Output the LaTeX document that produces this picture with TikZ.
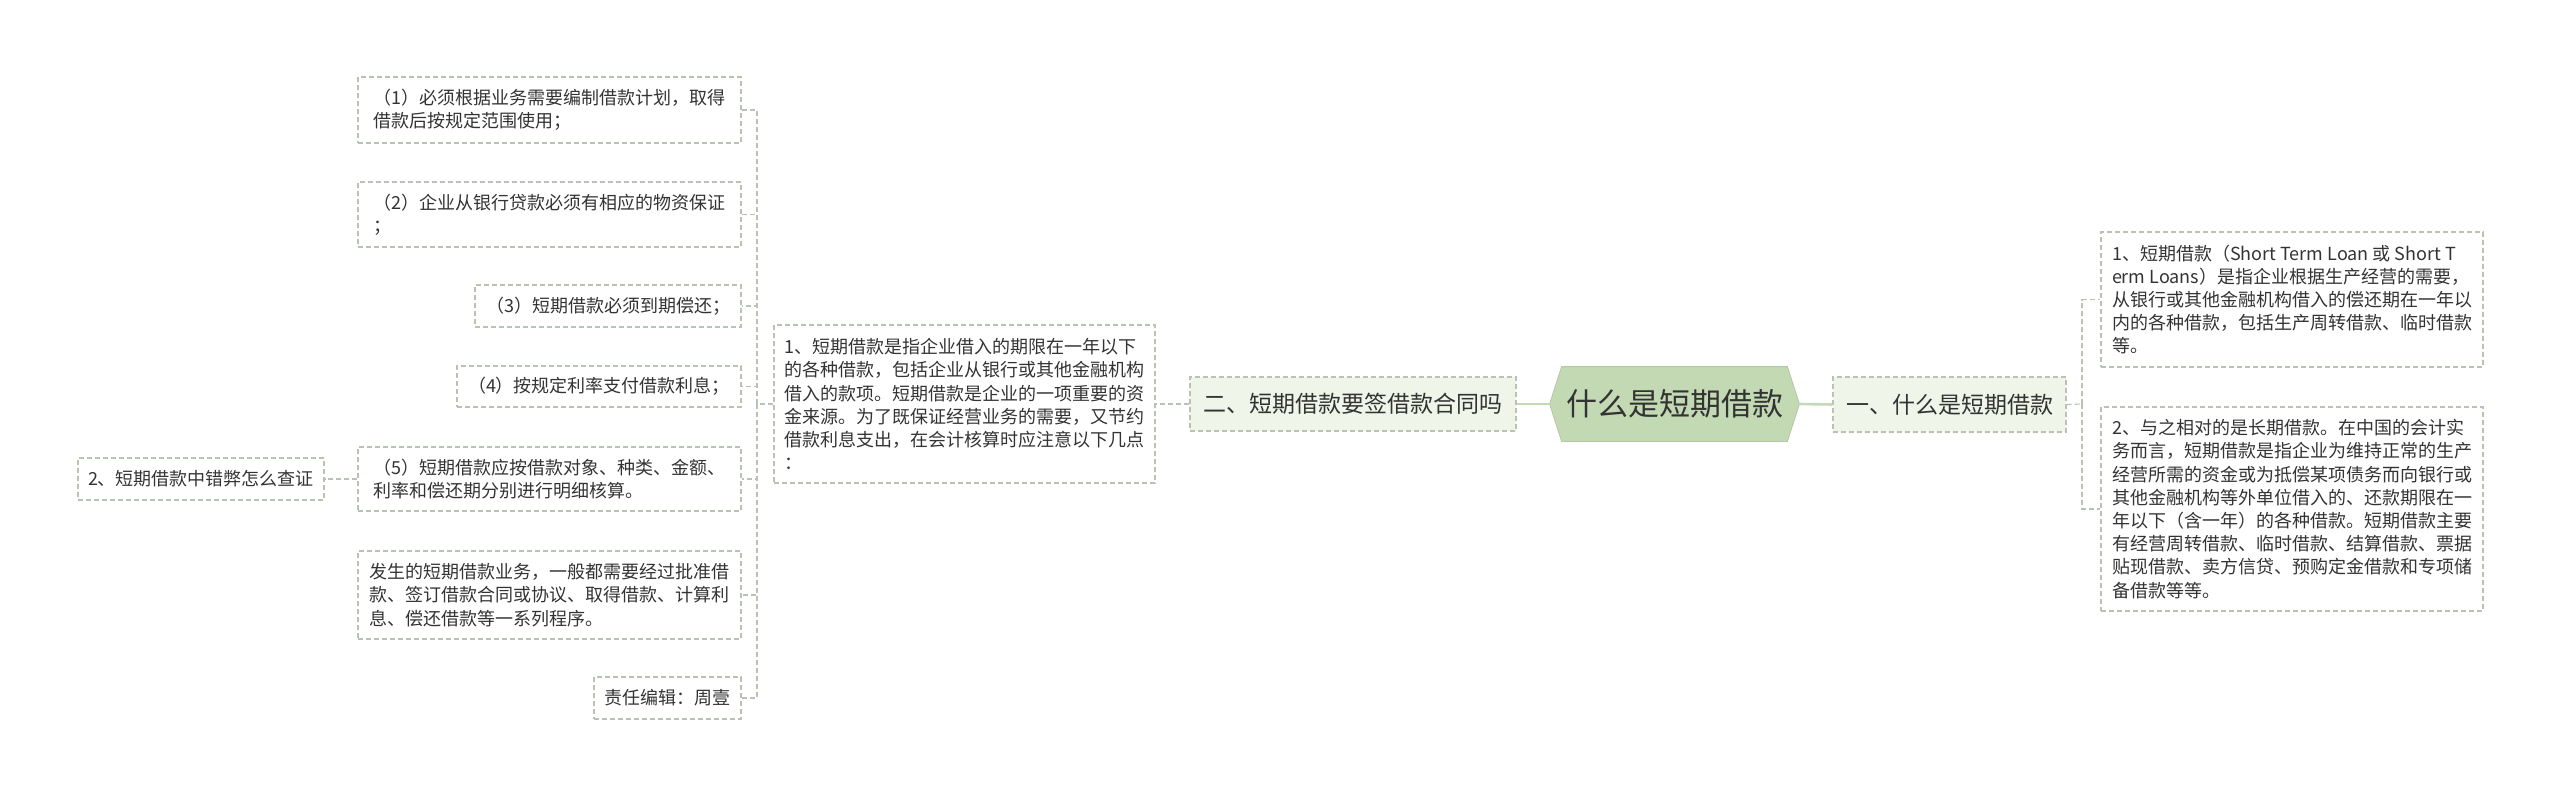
\documentclass[tikz,border=0pt]{standalone}
\usepackage{fontspec}
\setmainfont{Noto Sans CJK SC}
\usepackage{xcolor}
\definecolor{line_grey}{RGB}{186,194,180}
\definecolor{trunk_green}{RGB}{196,218,182}
\definecolor{root_green}{RGB}{194,217,179}
\definecolor{branch_green}{RGB}{239,246,233}
\definecolor{text_grey}{RGB}{51,51,51}
\usepackage{tikz}
\usetikzlibrary{calc,backgrounds}
\newlength\unitpx
\setlength\unitpx{0.5pt}

\begin{document}
\begin{tikzpicture}
[
    x = 0.5pt, y = -0.5pt,
    every node/.style = {text = text_grey, font = \fontsize{9pt}{11.6pt}\selectfont},
    boxsize/.style 2 args = {minimum width = #1\unitpx, minimum height = #2\unitpx},
    box/.style = {draw = line_grey, dash pattern = on 2.5pt off 1.5pt, line width = 0.6pt, align = left, inner xsep = 4.5pt, inner ysep = 4pt},
    branch/.style = {box, fill = branch_green, font = \fontsize{11.5pt}{14pt}\selectfont},
    link/.style = {draw = line_grey, dash pattern = on 2.5pt off 1.5pt, line width = 0.6pt},
    trunk/.style = {draw = trunk_green, line width = 1.3pt}
]
\useasboundingbox (0,0) rectangle (2560,797);

% centre
\node[boxsize={249}{74}, font = \fontsize{15.5pt}{18pt}\selectfont] (root) at (1674.5,404) {什么是短期借款};
\begin{pgfonlayer}{background}
	\filldraw[fill = root_green, draw = root_green!92!black, line width = 0.4pt]
		(root.west) -- ($(root.north west)+(12,0)$) -- ($(root.north east)+(-12,0)$)
		-- (root.east) -- ($(root.south east)+(-12,0)$) -- ($(root.south west)+(12,0)$) -- cycle;
\end{pgfonlayer}

% right side
\node[branch, boxsize={233}{55}] (br1) at (1949.5,404.5) {一、什么是短期借款};
\node[box, boxsize={382}{135}] (r1) at (2292,299.5) {1、短期借款（Short Term Loan 或 Short T\\erm Loans）是指企业根据生产经营的需要，\\从银行或其他金融机构借入的偿还期在一年以\\内的各种借款，包括生产周转借款、临时借款\\等。};
\node[box, boxsize={382}{204}] (r2) at (2292,509) {2、与之相对的是长期借款。在中国的会计实\\务而言，短期借款是指企业为维持正常的生产\\经营所需的资金或为抵偿某项债务而向银行或\\其他金融机构等外单位借入的、还款期限在一\\年以下（含一年）的各种借款。短期借款主要\\有经营周转借款、临时借款、结算借款、票据\\贴现借款、卖方信贷、预购定金借款和专项储\\备借款等等。};
\coordinate (rbar) at (2082,404);

% left side
\node[branch, boxsize={326}{54}] (br2) at (1353,404) {二、短期借款要签借款合同吗};
\node[box, boxsize={381}{158}] (mid) at (964.5,404) {1、短期借款是指企业借入的期限在一年以下\\的各种借款，包括企业从银行或其他金融机构\\借入的款项。短期借款是企业的一项重要的资\\金来源。为了既保证经营业务的需要，又节约\\借款利息支出，在会计核算时应注意以下几点\\：};
\coordinate (lbar) at (757,404);

\node[box, boxsize={383}{66}] (b1) at (549.5,110) {（1）必须根据业务需要编制借款计划，取得\\借款后按规定范围使用；};
\node[box, boxsize={383}{65}] (b2) at (549.5,214.5) {（2）企业从银行贷款必须有相应的物资保证\\；};
\node[box, boxsize={266}{42}] (b3) at (608,306) {（3）短期借款必须到期偿还；};
\node[box, boxsize={284}{41}] (b4) at (599,386.5) {（4）按规定利率支付借款利息；};
\node[box, boxsize={383}{64}] (b5) at (549.5,479) {（5）短期借款应按借款对象、种类、金额、\\利率和偿还期分别进行明细核算。};
\node[box, boxsize={383}{88}] (b6) at (549.5,595) {发生的短期借款业务，一般都需要经过批准借\\款、签订借款合同或协议、取得借款、计算利\\息、偿还借款等一系列程序。};
\node[box, boxsize={147}{42}] (b7) at (667.5,698) {责任编辑：周壹};
\node[box, boxsize={246}{42}] (leaf) at (201,479) {2、短期借款中错弊怎么查证};

% connectors
\draw[trunk] (root.west) -- (br2.east);
\draw[trunk] (root.east) -- (br1.west);
\draw[link] (br1.east) -- (rbar);
\foreach \n in {r1,r2}
	\draw[link] (rbar) |- (\n.west);
\draw[link] (br2.west) -- (mid.east);
\draw[link] (mid.west) -- (lbar);
\foreach \n in {b1,b2,b3,b4,b5,b6,b7}
	\draw[link] (lbar) |- (\n.east);
\draw[link] (b5.west) -- (leaf.east);
\end{tikzpicture}
\end{document}
